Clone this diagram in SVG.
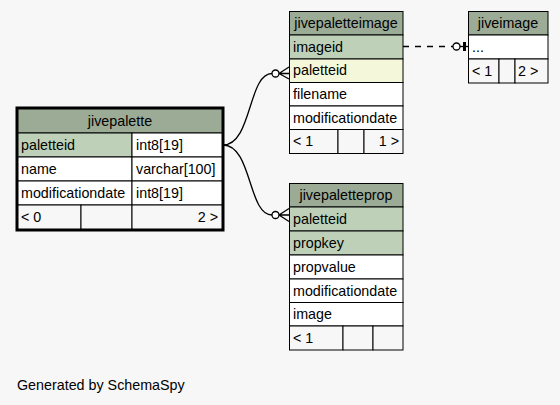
<svg xmlns="http://www.w3.org/2000/svg" width="560" height="405" viewBox="0 0 560 405">
<style>
text{font-family:"Liberation Sans",Arial,sans-serif;font-size:14.3px;fill:#000}
.c{stroke:#000;stroke-width:1}
.hd{fill:#9bab96}
.pk{fill:#bed1b8}
.fk{fill:#f4f7da}
.w{fill:#ffffff}
.ft{fill:#f7f7f7}
.m{text-anchor:middle}
.r{text-anchor:end}
.e{fill:none;stroke:#000;stroke-width:1.3}
</style>
<rect width="560" height="405" fill="#f7f7f7"/>
<g id="jivepalette">
<rect class="c hd" x="17.5" y="108.5" width="205" height="24.5"/>
<rect class="c pk" x="17.5" y="133" width="114.5" height="24"/>
<rect class="c w" x="132" y="133" width="90.5" height="24"/>
<rect class="c w" x="17.5" y="157" width="114.5" height="24"/>
<rect class="c w" x="132" y="157" width="90.5" height="24"/>
<rect class="c w" x="17.5" y="181" width="114.5" height="24"/>
<rect class="c w" x="132" y="181" width="90.5" height="24"/>
<rect class="c ft" x="17.5" y="205" width="63.5" height="24.5"/>
<rect class="c ft" x="81" y="205" width="51" height="24.5"/>
<rect class="c ft" x="132" y="205" width="90.5" height="24.5"/>
<rect x="17" y="108" width="206" height="122" fill="none" stroke="#000" stroke-width="3"/>
<text class="m" x="120" y="126">jivepalette</text>
<text x="21" y="150">paletteid</text>
<text x="136" y="150">int8[19]</text>
<text x="21" y="174">name</text>
<text x="136" y="174">varchar[100]</text>
<text x="21" y="198">modificationdate</text>
<text x="136" y="198">int8[19]</text>
<text x="21" y="222">&lt; 0</text>
<text class="r" x="218" y="222">2 &gt;</text>
</g>
<g id="jivepaletteimage">
<rect class="c hd" x="289.5" y="11.5" width="113.5" height="23.5"/>
<rect class="c pk" x="289.5" y="35" width="113.5" height="24"/>
<rect class="c fk" x="289.5" y="59" width="113.5" height="23.5"/>
<rect class="c w" x="289.5" y="82.5" width="113.5" height="23.5"/>
<rect class="c w" x="289.5" y="106" width="113.5" height="23.5"/>
<rect class="c ft" x="289.5" y="129.5" width="48.5" height="24"/>
<rect class="c ft" x="338" y="129.5" width="26" height="24"/>
<rect class="c ft" x="364" y="129.5" width="39" height="24"/>
<text class="m" x="346" y="28">jivepaletteimage</text>
<text x="293" y="52">imageid</text>
<text x="293" y="75">paletteid</text>
<text x="293" y="99">filename</text>
<text x="293" y="123">modificationdate</text>
<text x="293" y="146">&lt; 1</text>
<text class="r" x="399" y="146">1 &gt;</text>
</g>
<g id="jiveimage">
<rect class="c hd" x="468.5" y="11.5" width="79.5" height="23.5"/>
<rect class="c w" x="468.5" y="35" width="79.5" height="24"/>
<rect class="c ft" x="468.5" y="59" width="30.5" height="24"/>
<rect class="c ft" x="499" y="59" width="16" height="24"/>
<rect class="c ft" x="515" y="59" width="33" height="24"/>
<text class="m" x="508" y="28">jiveimage</text>
<text x="472" y="52">...</text>
<text x="472" y="76">&lt; 1</text>
<text x="518" y="76">2 &gt;</text>
</g>
<g id="jivepaletteprop">
<rect class="c hd" x="289.5" y="183.5" width="113.5" height="23.5"/>
<rect class="c pk" x="289.5" y="207" width="113.5" height="24"/>
<rect class="c pk" x="289.5" y="231" width="113.5" height="24"/>
<rect class="c w" x="289.5" y="255" width="113.5" height="24"/>
<rect class="c w" x="289.5" y="279" width="113.5" height="23.5"/>
<rect class="c w" x="289.5" y="302.5" width="113.5" height="23.5"/>
<rect class="c ft" x="289.5" y="326" width="53.5" height="24"/>
<rect class="c ft" x="343" y="326" width="30" height="24"/>
<rect class="c ft" x="373" y="326" width="30" height="24"/>
<text class="m" x="346" y="200">jivepaletteprop</text>
<text x="293" y="224">paletteid</text>
<text x="293" y="248">propkey</text>
<text x="293" y="272">propvalue</text>
<text x="293" y="296">modificationdate</text>
<text x="293" y="319">image</text>
<text x="293" y="343">&lt; 1</text>
</g>
<g id="connectors">
<path class="e" d="M223,145 C252,145 248,73.5 272,73.5"/>
<circle cx="275.5" cy="73.5" r="3.5" fill="#fff" stroke="#000" stroke-width="1.3"/>
<path class="e" d="M279,73.5 L289,67 M279,73.5 L289,73.5 M279,73.5 L289,79"/>
<path class="e" d="M223,145 C252,145 248,215 272,215"/>
<circle cx="275.5" cy="215" r="3.5" fill="#fff" stroke="#000" stroke-width="1.3"/>
<path class="e" d="M279,215 L289,208.5 M279,215 L289,215 M279,215 L289,221.5"/>
<path class="e" d="M403,46.5 L453,46.5" stroke-dasharray="6,6"/>
<circle cx="456.5" cy="46.5" r="3.5" fill="#fff" stroke="#000" stroke-width="1.3"/>
<path class="e" d="M460,46.5 L468,46.5"/>
<rect x="463" y="42" width="3" height="9" fill="#000"/>
</g>
<text x="17" y="390">Generated by SchemaSpy</text>
</svg>
